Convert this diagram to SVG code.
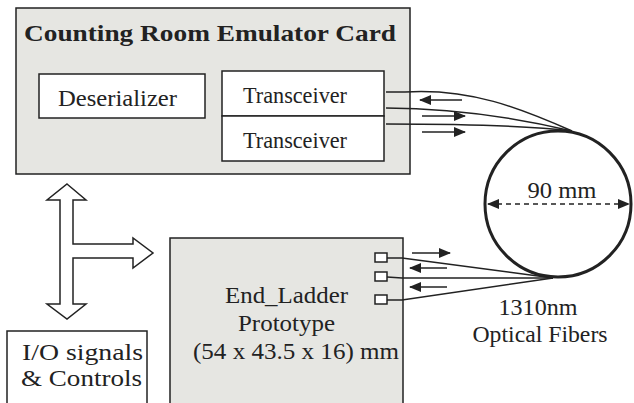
<svg xmlns="http://www.w3.org/2000/svg" width="634" height="403" viewBox="0 0 634 403">
<defs>
<style>
text{font-family:'Liberation Serif','Times New Roman',Times,serif;font-size:24px;fill:#222}
.gray{fill:#e6e6e2;stroke:#222;stroke-width:1.5}
.wb{fill:#fff;stroke:#222;stroke-width:1.5}
.fib{fill:none;stroke:#222;stroke-width:1.5}
.arr{stroke:#222;stroke-width:1.5;fill:none}
</style>
<marker id="ah" markerWidth="12" markerHeight="10" refX="11" refY="5" orient="auto" markerUnits="userSpaceOnUse">
<path d="M0,0 L12,5 L0,10 Z" fill="#222"/>
</marker>
<marker id="ahs" markerWidth="12" markerHeight="10" refX="11" refY="5" orient="auto-start-reverse" markerUnits="userSpaceOnUse">
<path d="M0,0 L12,5 L0,10 Z" fill="#222"/>
</marker>
</defs>
<g id="card">
<rect class="gray" x="16" y="8" width="394" height="166"/>
<text x="24" y="41" font-weight="bold" font-size="26" textLength="372" lengthAdjust="spacingAndGlyphs">Counting Room Emulator Card</text>
</g>
<g id="deserializer">
<rect class="wb" x="39" y="74" width="166" height="44"/>
<text x="58" y="106" textLength="119" lengthAdjust="spacingAndGlyphs">Deserializer</text>
</g>
<g id="transceiver1">
<rect class="wb" x="222" y="71" width="162" height="45"/>
<text x="243" y="103" textLength="104" lengthAdjust="spacingAndGlyphs">Transceiver</text>
</g>
<g id="transceiver2">
<rect class="wb" x="222" y="116" width="162" height="45"/>
<text x="243" y="148" textLength="104" lengthAdjust="spacingAndGlyphs">Transceiver</text>
</g>
<g id="endladder">
<rect class="gray" x="170" y="238" width="233" height="170"/>
<rect class="wb" x="375" y="253" width="12" height="9"/>
<rect class="wb" x="375" y="272" width="12" height="9"/>
<rect class="wb" x="375" y="295" width="12" height="9"/>
<text x="286.5" y="303" text-anchor="middle" textLength="123" lengthAdjust="spacingAndGlyphs">End_Ladder</text>
<text x="286.5" y="331" text-anchor="middle" textLength="97" lengthAdjust="spacingAndGlyphs">Prototype</text>
<text x="296" y="359" text-anchor="middle" textLength="206" lengthAdjust="spacingAndGlyphs">(54 x 43.5 x 16) mm</text>
</g>
<g id="io">
<rect class="wb" x="7" y="331" width="140" height="80"/>
<text x="22" y="360" textLength="121" lengthAdjust="spacingAndGlyphs">I/O signals</text>
<text x="21" y="386" textLength="121" lengthAdjust="spacingAndGlyphs">&amp; Controls</text>
</g>
<g id="fiberloop">
<circle cx="558" cy="204" r="73" fill="none" stroke="#222" stroke-width="3"/>
<line x1="488" y1="204" x2="629" y2="204" stroke="#222" stroke-width="1.5" stroke-dasharray="5,4" marker-start="url(#ahs)" marker-end="url(#ah)"/>
<text x="562" y="198" text-anchor="middle" textLength="69" lengthAdjust="spacingAndGlyphs">90 mm</text>
<text x="538" y="315" text-anchor="middle" textLength="79" lengthAdjust="spacingAndGlyphs">1310nm</text>
<text x="540" y="342" text-anchor="middle" textLength="135" lengthAdjust="spacingAndGlyphs">Optical Fibers</text>
</g>
<g id="connectors">
<path class="fib" d="M386,92 L405,92 C470,88 520,108 572,131"/>
<path class="fib" d="M386,108 C460,108 525,120 572,131"/>
<path class="fib" d="M386,124 C460,124 530,126 572,131"/>
<path class="fib" d="M387,258 L402,258 L553,278"/>
<path class="fib" d="M387,277 L402,278 L553,278"/>
<path class="fib" d="M387,300 L402,300 L553,278"/>
<line class="arr" x1="462" y1="100" x2="420" y2="100" marker-end="url(#ah)"/>
<line class="arr" x1="422" y1="116" x2="465" y2="116" marker-end="url(#ah)"/>
<line class="arr" x1="422" y1="132" x2="465" y2="132" marker-end="url(#ah)"/>
<line class="arr" x1="412" y1="253" x2="450" y2="253" marker-end="url(#ah)"/>
<line class="arr" x1="447" y1="268" x2="410" y2="268" marker-end="url(#ah)"/>
<line class="arr" x1="447" y1="287" x2="410" y2="287" marker-end="url(#ah)"/>
<path d="M67,184 L86,200 L73,200 L73,244 L133,244 L133,238 L153,253 L133,268 L133,258 L73,258 L73,304 L86,304 L67,319 L47,304 L60,304 L60,200 L47,200 Z" fill="#fff" stroke="#222" stroke-width="1.5"/>
</g>
</svg>
